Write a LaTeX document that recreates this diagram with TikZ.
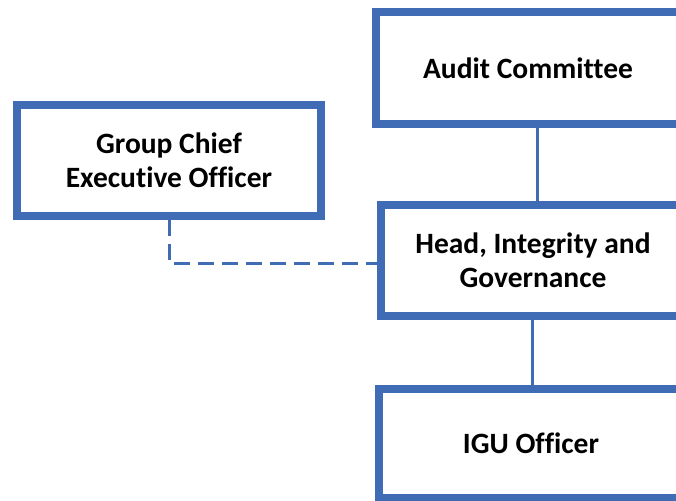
\documentclass[tikz,border=0pt]{standalone}
\usepackage{fontspec}
\setmainfont{Carlito}[Ligatures={NoCommon,NoDiscretionary,NoRequired,NoContextual}]
\definecolor{boxblue}{RGB}{63,108,181}
\begin{document}
\begin{tikzpicture}[x=1pt,y=-1pt,
  orgbox/.style={draw=boxblue, line width=8pt, fill=white, rectangle,
    minimum width=304pt, align=center, inner sep=0pt,
    font=\fontsize{29.5}{34}\selectfont\bfseries},
  link/.style={draw=boxblue, line width=3pt},
  dottedlink/.style={link, dash pattern=on 16pt off 8pt}]
\useasboundingbox (0,0) rectangle (676,500);
\begin{scope}
\clip (0,0) rectangle (676,500);
% columns of the two vertical reporting lines
\coordinate (upperx) at (537,0);
\coordinate (lowerx) at (532,0);
\node[orgbox, minimum height=111.5pt] (audit) at (528,68.25) {Audit Committee};
\node[orgbox, minimum height=111pt] (gceo) at (169,160.5) {Group Chief\\Executive Officer};
\node[orgbox, minimum height=111pt] (head) at (533,260.5) {Head, Integrity and\\Governance};
\node[orgbox, minimum height=109pt] (igu) at (531,443.5) {IGU Officer};
\draw[link] (audit.south -| upperx) -- (head.north -| upperx);
\draw[link] (head.south -| lowerx) -- (igu.north -| lowerx);
\draw[dottedlink] (gceo.south) |- ([yshift=-2.5pt]head.west);
\end{scope}
\end{tikzpicture}
\end{document}
